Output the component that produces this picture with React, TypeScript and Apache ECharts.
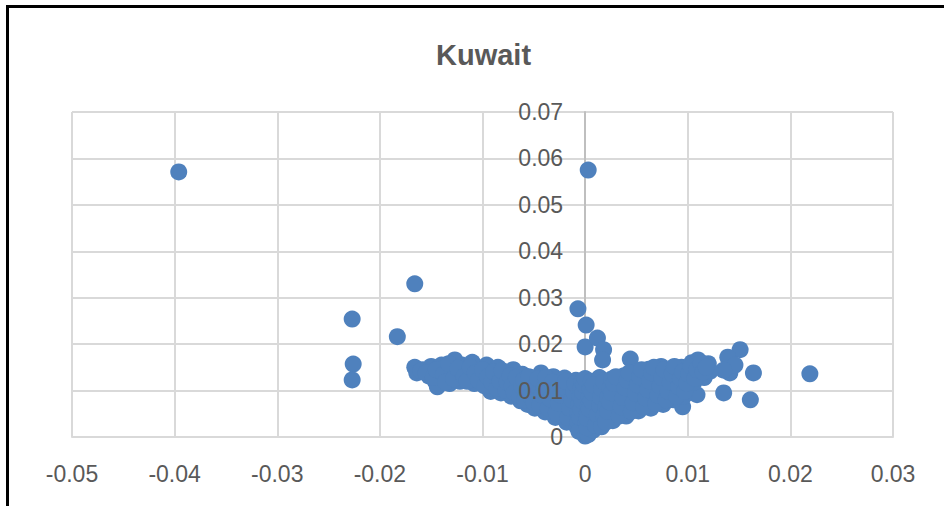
import React, { useEffect, useRef } from "react";
import * as echarts from "echarts";

const chartTitle = "Kuwait";
const xTickValues = [-0.05, -0.04, -0.03, -0.02, -0.01, 0, 0.01, 0.02, 0.03];
const yTickValues = [0, 0.01, 0.02, 0.03, 0.04, 0.05, 0.06, 0.07];

const outlierPoints: [number, number][] = [
  [-0.0396, 0.0571], [0.0003, 0.0575], [-0.0166, 0.033], [-0.0227, 0.0254],
  [-0.0226, 0.0157], [-0.0227, 0.0123], [-0.0183, 0.0216], [-0.0007, 0.0276],
  [0.0001, 0.0241], [0.0, 0.0194], [0.0012, 0.0213], [0.0018, 0.0188],
  [0.0017, 0.0166], [0.0044, 0.0168], [0.0151, 0.0188], [0.0139, 0.0172],
  [0.0141, 0.0138], [0.0164, 0.0138], [0.0219, 0.0136], [0.0135, 0.0095],
  [0.0161, 0.008], [0.0109, 0.0091], [0.0095, 0.0065], [0.0146, 0.0155],
  [0.0135, 0.0144],
];

const leftArmPoints: [number, number][] = [
  [-0.0166, 0.015], [-0.0164, 0.0138], [-0.0158, 0.0145], [-0.0152, 0.0131],
  [-0.015, 0.0152], [-0.0146, 0.012], [-0.0144, 0.0108], [-0.0142, 0.014],
  [-0.014, 0.0155], [-0.0135, 0.0128], [-0.0132, 0.0115], [-0.013, 0.0148],
  [-0.0127, 0.0166], [-0.0125, 0.0136], [-0.0122, 0.012], [-0.012, 0.0155],
  [-0.0116, 0.0142], [-0.0113, 0.0127], [-0.011, 0.0161], [-0.0108, 0.0115],
  [-0.0105, 0.0148], [-0.0102, 0.0132], [-0.0099, 0.012], [-0.0096, 0.0155],
  [-0.0093, 0.014], [-0.0092, 0.0098], [-0.009, 0.0105], [-0.0088, 0.0125],
  [-0.0085, 0.015], [-0.0082, 0.0095], [-0.008, 0.0112], [-0.0078, 0.0138],
  [-0.0075, 0.0128], [-0.0072, 0.0088], [-0.007, 0.0145], [-0.0068, 0.0104],
  [-0.0066, 0.0118], [-0.0063, 0.0078], [-0.0061, 0.0135], [-0.0058, 0.0094],
  [-0.0056, 0.007], [-0.0054, 0.0112], [-0.0052, 0.0127], [-0.0049, 0.0062],
  [-0.0047, 0.0085], [-0.0045, 0.01], [-0.0043, 0.0138], [-0.0041, 0.012],
  [-0.0039, 0.0054], [-0.0037, 0.0074], [-0.0035, 0.0092], [-0.0033, 0.0108],
  [-0.0031, 0.013], [-0.0029, 0.0042], [-0.0027, 0.0062], [-0.0025, 0.008],
  [-0.0023, 0.0098], [-0.0021, 0.0115], [-0.002, 0.0127], [-0.0018, 0.0032],
  [-0.0016, 0.0052], [-0.0014, 0.007], [-0.0012, 0.0088], [-0.001, 0.0106],
  [-0.0009, 0.0122], [-0.0008, 0.0022],
  [-0.016, 0.0143], [-0.0155, 0.0138], [-0.0148, 0.0128], [-0.0145, 0.0145],
  [-0.0138, 0.0135], [-0.0136, 0.0118], [-0.0133, 0.0158], [-0.0128, 0.0125],
  [-0.0124, 0.0148], [-0.0118, 0.013], [-0.0115, 0.012], [-0.0112, 0.015],
  [-0.0107, 0.0138], [-0.0104, 0.0122], [-0.01, 0.0145], [-0.0098, 0.011],
  [-0.0095, 0.013], [-0.0091, 0.0118], [-0.0089, 0.014], [-0.0086, 0.0105],
  [-0.0083, 0.012], [-0.0081, 0.0143], [-0.0077, 0.01], [-0.0076, 0.0118],
  [-0.0073, 0.0132], [-0.0071, 0.011], [-0.0069, 0.0095], [-0.0067, 0.0128],
  [-0.0064, 0.0088], [-0.0062, 0.011], [-0.006, 0.0122], [-0.0059, 0.008],
  [-0.0057, 0.0102], [-0.0055, 0.013], [-0.0053, 0.0088], [-0.005, 0.0075],
  [-0.0048, 0.0112], [-0.0046, 0.0125], [-0.0044, 0.0068], [-0.0042, 0.009],
  [-0.004, 0.0105], [-0.0038, 0.0128], [-0.0036, 0.0062], [-0.0034, 0.0082],
  [-0.0032, 0.0118], [-0.003, 0.01], [-0.0028, 0.0052], [-0.0026, 0.0072],
  [-0.0024, 0.009], [-0.0022, 0.0108], [-0.0019, 0.012], [-0.0017, 0.0042],
  [-0.0015, 0.0062], [-0.0013, 0.008], [-0.0011, 0.0097], [-0.001, 0.0115],
  [-0.0007, 0.0032], [-0.0007, 0.0052], [-0.0006, 0.007], [-0.0005, 0.0088],
  [-0.0004, 0.0105], [-0.0003, 0.012],
];

const centerPoints: [number, number][] = [
  [-0.0006, 0.0012], [-0.0005, 0.0042], [-0.0004, 0.006], [-0.0003, 0.0078],
  [-0.0002, 0.0096], [-0.0001, 0.0113], [0.0, 0.0126], [0.0, 0.0002],
  [0.0001, 0.003], [0.0002, 0.005], [0.0003, 0.0068], [0.0004, 0.0086],
  [0.0005, 0.0104], [0.0003, 0.0005], [0.0006, 0.012], [0.0008, 0.0015],
  [0.0009, 0.0038], [0.001, 0.0058], [0.0011, 0.0076], [0.0012, 0.0094],
  [0.0013, 0.0112], [0.0014, 0.0128],
  [0.0002, 0.002], [0.0002, 0.004], [0.0004, 0.006], [0.0006, 0.0078],
  [0.0007, 0.0096], [0.0008, 0.0112], [0.001, 0.0025], [0.0012, 0.0048],
  [0.0014, 0.0068], [0.0015, 0.0086], [0.0016, 0.0104], [0.0018, 0.012],
];

const rightArmPoints: [number, number][] = [
  [0.0016, 0.0022], [0.0018, 0.0045], [0.002, 0.0065], [0.0022, 0.0085],
  [0.0024, 0.0105], [0.0026, 0.0125], [0.0027, 0.0035], [0.003, 0.0055],
  [0.0032, 0.0075], [0.0034, 0.0095], [0.0036, 0.0115], [0.0038, 0.0132],
  [0.004, 0.0045], [0.0042, 0.0064], [0.0044, 0.0084], [0.0046, 0.0104],
  [0.0048, 0.0122], [0.005, 0.014], [0.0052, 0.0056], [0.0054, 0.0074],
  [0.0056, 0.0094], [0.0058, 0.0112], [0.006, 0.013], [0.0062, 0.0146],
  [0.0064, 0.0062], [0.0066, 0.0082], [0.0068, 0.01], [0.007, 0.012],
  [0.0072, 0.0138], [0.0074, 0.0152], [0.0076, 0.007], [0.0078, 0.009],
  [0.008, 0.011], [0.0082, 0.0128], [0.0084, 0.0146], [0.0086, 0.008],
  [0.0088, 0.01], [0.009, 0.0118], [0.0092, 0.0136], [0.0094, 0.015],
  [0.0096, 0.0088], [0.0098, 0.0108], [0.01, 0.0126], [0.0102, 0.0144],
  [0.0104, 0.016], [0.0106, 0.0118], [0.0108, 0.0136], [0.011, 0.0166],
  [0.0112, 0.015], [0.0116, 0.0128], [0.012, 0.0158], [0.0122, 0.0142],
  [0.002, 0.0032], [0.0022, 0.0055], [0.0024, 0.0075], [0.0026, 0.0095],
  [0.0028, 0.0115], [0.003, 0.013], [0.0033, 0.0045], [0.0035, 0.0065],
  [0.0037, 0.0085], [0.0039, 0.0105], [0.0041, 0.0122], [0.0043, 0.0138],
  [0.0045, 0.0055], [0.0047, 0.0074], [0.0049, 0.0094], [0.0051, 0.0112],
  [0.0053, 0.013], [0.0055, 0.0145], [0.0057, 0.0065], [0.0059, 0.0084],
  [0.0061, 0.0102], [0.0063, 0.012], [0.0065, 0.0138], [0.0067, 0.015],
  [0.0069, 0.0072], [0.0071, 0.009], [0.0073, 0.011], [0.0075, 0.0128],
  [0.0077, 0.0145], [0.0079, 0.008], [0.0081, 0.0098], [0.0083, 0.0118],
  [0.0085, 0.0136], [0.0087, 0.0152], [0.0089, 0.0088], [0.0091, 0.0108],
  [0.0093, 0.0126], [0.0095, 0.014], [0.0097, 0.0098], [0.0099, 0.0116],
  [0.0101, 0.0135], [0.0103, 0.0152], [0.0107, 0.0126], [0.0109, 0.0145],
  [0.0113, 0.016], [0.0115, 0.014], [0.0118, 0.015],
];

const FONT = "'Liberation Sans', Arial, sans-serif";
const TEXT_COLOR = "#595959";
const GRID_COLOR = "#d9d9d9";

function fmt(v: number): string {
  const r = Math.round(v * 1000) / 1000;
  return String(r);
}

export default function App() {
  const ref = useRef<HTMLDivElement>(null);
  useEffect(() => {
    if (!ref.current) return;
    const chart = echarts.init(ref.current, null, { renderer: "svg" });
    const allPoints = [...outlierPoints, ...leftArmPoints, ...centerPoints, ...rightArmPoints];
    const gridLeft = 72;
    const gridWidth = 944 - 72 - 51;
    const xMin = xTickValues[0];
    const xMax = xTickValues[xTickValues.length - 1];
    const yMin = yTickValues[0];
    const yMax = yTickValues[yTickValues.length - 1];
    const zeroOffset = -((0 - xMin) / (xMax - xMin)) * gridWidth;
    const labelStyle = {
      color: TEXT_COLOR,
      fontFamily: FONT,
      fontSize: 23,
      formatter: (v: number) => fmt(v),
    };
    chart.setOption({
      animation: false,
      backgroundColor: "#ffffff",
      title: {
        text: chartTitle,
        left: 431,
        top: 35,
        textStyle: { fontFamily: FONT, fontSize: 29, fontWeight: "bold", color: TEXT_COLOR },
      },
      grid: { left: gridLeft, right: 51, top: 112, bottom: 69, containLabel: false },
      xAxis: {
        type: "value",
        min: xMin,
        max: xMax,
        interval: 0.01,
        axisLine: { show: true, onZero: true, lineStyle: { color: GRID_COLOR, width: 2 } },
        axisTick: { show: false },
        axisLabel: { ...labelStyle, margin: 25 },
        splitLine: { show: true, lineStyle: { color: GRID_COLOR, width: 2 } },
      },
      yAxis: [
        {
          type: "value",
          min: yMin,
          max: yMax,
          interval: 0.01,
          offset: zeroOffset,
          axisLine: { show: true, onZero: false, lineStyle: { color: "#bfbfbf", width: 2 } },
          axisTick: { show: false },
          axisLabel: { show: false },
          splitLine: { show: true, lineStyle: { color: GRID_COLOR, width: 2 } },
        },
        {
          type: "value",
          position: "left",
          min: yMin,
          max: yMax,
          interval: 0.01,
          offset: zeroOffset,
          z: 10,
          axisLine: { show: false },
          axisTick: { show: false },
          axisLabel: { ...labelStyle, margin: 22 },
          splitLine: { show: false },
        },
      ],
      series: [
        {
          type: "scatter",
          yAxisIndex: 0,
          data: allPoints,
          symbol: "circle",
          symbolSize: 17,
          itemStyle: { color: "#4f81bd", opacity: 1 },
        },
      ],
    });
    return () => chart.dispose();
  }, []);

  return (
    <div style={{ position: "fixed", left: 0, top: 0, width: 944, height: 506, background: "#fff", overflow: "hidden" }}>
      <div ref={ref} style={{ position: "absolute", left: 0, top: 0, width: 944, height: 506 }} />
      <div
        style={{
          position: "absolute",
          left: 6,
          top: 5,
          width: 960,
          height: 520,
          borderLeft: "3px solid #000",
          borderTop: "3px solid #000",
          pointerEvents: "none",
        }}
      />
    </div>
  );
}
